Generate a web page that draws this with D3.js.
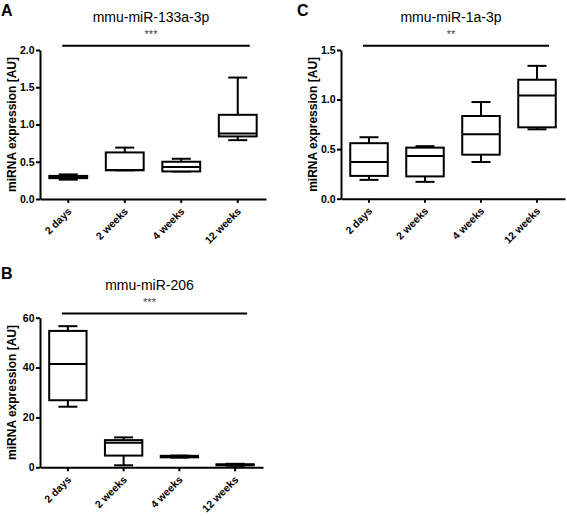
<!DOCTYPE html>
<html>
<head>
<meta charset="utf-8">
<script src="https://cdn.jsdelivr.net/npm/d3@7"></script>
<style>
  html, body { margin: 0; padding: 0; background: #fff; }
  svg { display: block; font-family: "Liberation Sans", Arial, sans-serif; }
</style>
</head>
<body>
<svg id="chart" width="567" height="516"></svg>
<script>
// ---- Data ----
const categories = ["2 days", "2 weeks", "4 weeks", "12 weeks"];
// Each entry: [min, q1, median, q3, max]
const miR133aStats = [
  [0.26, 0.28, 0.30, 0.31, 0.33],
  [0.385, 0.385, 0.39, 0.625, 0.69],
  [0.37, 0.37, 0.43, 0.50, 0.54],
  [0.79, 0.84, 0.88, 1.13, 1.63]
];
const miR1aStats = [
  [0.19, 0.23, 0.37, 0.56, 0.62],
  [0.17, 0.225, 0.43, 0.515, 0.53],
  [0.37, 0.444, 0.65, 0.834, 0.975],
  [0.70, 0.72, 1.04, 1.20, 1.34]
];
const miR206Stats = [
  [24.3, 26.9, 41.4, 54.7, 56.6],
  [0.8, 4.7, 9.8, 10.9, 12.0],
  [3.9, 4.0, 4.3, 4.6, 4.7],
  [0.6, 0.8, 1.0, 1.2, 1.4]
];
const miR133aTicks = [0, 0.5, 1.0, 1.5, 2.0];
const miR1aTicks = [0, 0.5, 1.0, 1.5];
const miR206Ticks = [0, 20, 40, 60];

const panels = [
  { letter: "A", title: "mmu-miR-133a-3p", sig: "***", stats: miR133aStats, ticks: miR133aTicks, fmt: d3.format(".1f"),
    yMax: 2.0, x0: 40, x1: 266, yTop: 50, yBot: 199, letterX: 1, letterY: 16, ylabX: 16 },
  { letter: "C", title: "mmu-miR-1a-3p", sig: "**", stats: miR1aStats, ticks: miR1aTicks, fmt: d3.format(".1f"),
    yMax: 1.5, x0: 341, x1: 565, yTop: 50, yBot: 198.7, letterX: 297, letterY: 16, ylabX: 317 },
  { letter: "B", title: "mmu-miR-206", sig: "***", stats: miR206Stats, ticks: miR206Ticks, fmt: d3.format("d"),
    yMax: 60, x0: 40, x1: 263, yTop: 317.7, yBot: 467.3, letterX: 1, letterY: 279, ylabX: 16 }
];

const svg = d3.select("#chart");

panels.forEach(p => {
  const g = svg.append("g");
  const x = d3.scaleBand().domain(categories).range([p.x0, p.x1]).padding(0);
  const y = d3.scaleLinear().domain([0, p.yMax]).range([p.yBot, p.yTop]);
  const boxW = x.step() * 0.67;
  const capW = 19;

  // Panel letter
  g.append("text").attr("x", p.letterX).attr("y", p.letterY)
    .attr("font-size", 16).attr("font-weight", "bold").text(p.letter);

  // Title
  const cx = (p.x0 + p.x1) / 2 - 2;
  g.append("text").attr("x", cx).attr("y", p.yTop - 28)
    .attr("text-anchor", "middle").attr("font-size", 14).text(p.title);
  g.append("text").attr("x", cx).attr("y", p.yTop - 12)
    .attr("text-anchor", "middle").attr("font-size", 11).attr("fill", "#444").text(p.sig);

  // Significance line
  g.append("line")
    .attr("x1", x(categories[0]) + x.bandwidth() / 2 - 6)
    .attr("x2", x(categories[categories.length - 1]) + x.bandwidth() / 2 + 12)
    .attr("y1", p.yTop - 4.3).attr("y2", p.yTop - 4.3)
    .attr("stroke", "#000").attr("stroke-width", 2);

  // Axes
  const yAxis = d3.axisLeft(y).tickValues(p.ticks).tickFormat(p.fmt).tickSize(4).tickSizeOuter(0).tickPadding(1.5);
  const ya = g.append("g").attr("transform", `translate(${p.x0},0)`).call(yAxis);
  ya.selectAll("text").attr("font-size", 10.5).attr("font-weight", "bold").attr("fill", "#000")
    .attr("font-family", "'Liberation Sans', Arial, sans-serif");

  const xAxis = d3.axisBottom(x).tickSize(4).tickSizeOuter(0).tickFormat("");
  const xa = g.append("g").attr("transform", `translate(0,${p.yBot})`).call(xAxis);

  [ya, xa].forEach(a => {
    a.select(".domain").attr("stroke", "#000").attr("stroke-width", 2);
    a.selectAll(".tick line").attr("stroke", "#000").attr("stroke-width", 2);
  });

  // X tick labels rotated
  g.selectAll(".xlab").data(categories).enter().append("text")
    .attr("transform", d => `translate(${x(d) + x.bandwidth() / 2 + 4},${p.yBot + 13}) rotate(-45)`)
    .attr("text-anchor", "end").attr("font-size", 10.5).attr("font-weight", "bold").text(d => d);

  // Y label
  g.append("text")
    .attr("transform", `translate(${p.ylabX},${(p.yTop + p.yBot) / 2}) rotate(-90)`)
    .attr("text-anchor", "middle").attr("font-size", 12).attr("font-weight", "bold")
    .text("miRNA expression [AU]");

  // Boxes
  const boxes = g.selectAll(".box").data(p.stats).enter().append("g")
    .attr("transform", (d, i) => `translate(${x(categories[i]) + x.bandwidth() / 2},0)`);
  // whiskers
  boxes.append("line").attr("x1", 0).attr("x2", 0).attr("y1", d => y(d[4])).attr("y2", d => y(d[3]))
    .attr("stroke", "#000").attr("stroke-width", 2);
  boxes.append("line").attr("x1", 0).attr("x2", 0).attr("y1", d => y(d[1])).attr("y2", d => y(d[0]))
    .attr("stroke", "#000").attr("stroke-width", 2);
  // caps
  boxes.append("line").attr("x1", -capW / 2).attr("x2", capW / 2).attr("y1", d => y(d[4])).attr("y2", d => y(d[4]))
    .attr("stroke", "#000").attr("stroke-width", 2);
  boxes.append("line").attr("x1", -capW / 2).attr("x2", capW / 2).attr("y1", d => y(d[0])).attr("y2", d => y(d[0]))
    .attr("stroke", "#000").attr("stroke-width", 2);
  // box
  boxes.append("rect").attr("x", -boxW / 2).attr("width", boxW)
    .attr("y", d => y(d[3])).attr("height", d => y(d[1]) - y(d[3]))
    .attr("fill", "#fff").attr("stroke", "#000").attr("stroke-width", 2);
  // median
  boxes.append("line").attr("x1", -boxW / 2).attr("x2", boxW / 2).attr("y1", d => y(d[2])).attr("y2", d => y(d[2]))
    .attr("stroke", "#000").attr("stroke-width", 2);
});
</script>
</body>
</html>
